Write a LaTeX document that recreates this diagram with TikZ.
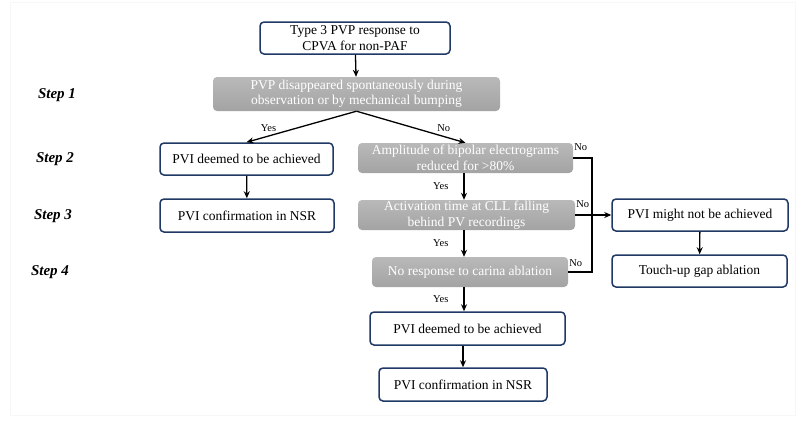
\documentclass[tikz,border=0pt]{standalone}
\usepackage{fontspec}
\setmainfont{Liberation Serif}
\usetikzlibrary{arrows.meta}
\tikzset{
  whitebox/.style={draw=boxcol, line width=1.5pt, rounded corners=4pt, fill=white,
    align=center, inner sep=0pt, font=\fontsize{13.5}{15.4}\selectfont},
  graybox/.style={rounded corners=4pt, top color=gray!55, bottom color=gray!72,
    text=white, align=center, inner sep=0pt, font=\fontsize{13.5}{15.4}\selectfont},
  steplabel/.style={font=\fontsize{15}{17}\selectfont\bfseries\itshape},
  edgelabel/.style={font=\fontsize{10.5}{12}\selectfont, inner sep=1pt},
  link/.style={line width=1.3pt}
}

\begin{document}
\begin{tikzpicture}[x=1pt, y=-1pt, >={Stealth[length=7pt,width=6pt]}]
  % Bounding box of the reference (pixels).
  \path[use as bounding box] (0,0) rectangle (799,421);

  \definecolor{boxcol}{RGB}{32,56,100}
  \colorlet{framecol}{black!3}

  % Faint outer frame.
  \draw[framecol, line width=1pt] (10,2) rectangle (795,415);

  % Step labels.
  \node[steplabel] (step1) at (57,95) {Step 1};
  \node[steplabel] (step2) at (55,159) {Step 2};
  \node[steplabel] (step3) at (53,216) {Step 3};
  \node[steplabel] (step4) at (50,272) {Step 4};

  % Start and first question.
  \node[whitebox, minimum width=190pt, minimum height=32pt] (start) at (355,38)
    {Type 3 PVP response to\\CPVA for non-PAF};
  \node[graybox, minimum width=287pt, minimum height=34pt] (bump) at (356.5,94)
    {PVP disappeared spontaneously during\\observation or by mechanical bumping};

  % Left branch.
  \node[whitebox, minimum width=173pt, minimum height=32pt] (deemedL) at (246.5,159)
    {PVI deemed to be achieved};
  \node[whitebox, minimum width=174pt, minimum height=33pt] (confirmL) at (247,215.5)
    {PVI confirmation in NSR};

  % Middle branch.
  \node[graybox, minimum width=215pt, minimum height=30pt] (ampl) at (465.5,158)
    {Amplitude of bipolar electrograms\\reduced for >80\%};
  \node[graybox, minimum width=217pt, minimum height=30pt] (activ) at (466.5,215)
    {Activation time at CLL falling\\behind PV recordings};
  \node[graybox, minimum width=196pt, minimum height=30pt] (carina) at (470,272)
    {No response to carina ablation};
  \node[whitebox, minimum width=195pt, minimum height=33pt] (deemedR) at (467.5,328.5)
    {PVI deemed to be achieved};
  \node[whitebox, minimum width=168pt, minimum height=33pt] (confirmR) at (463,384.5)
    {PVI confirmation in NSR};

  % Right branch.
  \node[whitebox, minimum width=176pt, minimum height=32pt] (notach) at (700,215)
    {PVI might not be achieved};
  \node[whitebox, minimum width=175pt, minimum height=32pt] (touchup) at (699.5,271)
    {Touch-up gap ablation};

  \coordinate (bus) at (592,215);

  % Connectors.
  \draw[link, ->] (start) -- (bump);
  \draw[link, ->] (bump.south) -- (deemedL.north)
    node[edgelabel, pos=0.8, above=3pt] {Yes};
  \draw[link, ->] (bump.south) -- (ampl.north)
    node[edgelabel, pos=0.8, above=3pt] {No};
  \draw[link, ->] (deemedL) -- (confirmL);
  \draw[link, ->] (ampl.south -| 464,0) -- (activ.north -| 464,0)
    node[edgelabel, midway, left=14pt] {Yes};
  \draw[link, ->] (activ.south -| 464,0) -- (carina.north -| 464,0)
    node[edgelabel, midway, left=14pt] {Yes};
  \draw[link, ->] (carina.south -| 464,0) -- (deemedR.north -| 464,0)
    node[edgelabel, midway, left=14pt] {Yes};
  \draw[link, ->] (deemedR.south -| 463,0) -- (confirmR.north -| 463,0);

  \draw[link] (ampl.east) -- (ampl.east -| bus) |- (carina.east);
  \draw[link, ->] (activ.east) -- (notach.west);
  \draw[link, ->] (notach) -- (touchup);

  % No labels.
  \node[edgelabel, anchor=west] at ([yshift=-4pt]ampl.north east) {No};
  \node[edgelabel, anchor=west] at ([yshift=-4pt]activ.north east) {No};
  \node[edgelabel, anchor=west] at ([yshift=-6pt]carina.north east) {No};
\end{tikzpicture}
\end{document}
